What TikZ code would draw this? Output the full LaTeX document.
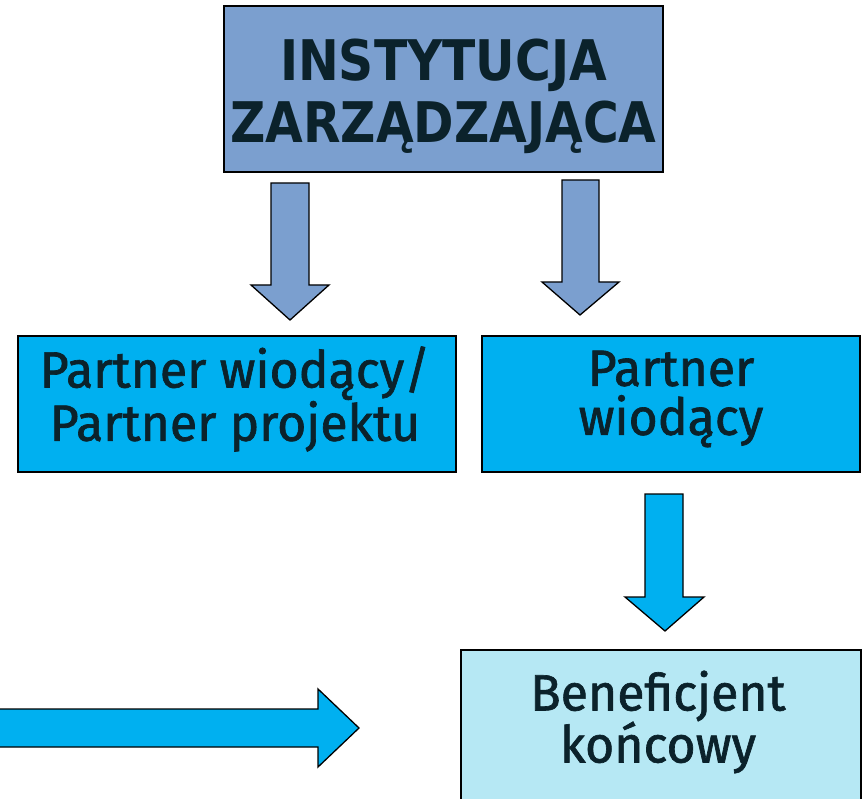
\documentclass[tikz,border=0pt]{standalone}
\usepackage{fontspec}
\newfontfamily\topfont[FakeStretch=0.87]{DejaVu Sans}
\newfontfamily\boxfont[FakeStretch=0.98,FakeBold=1.3]{Fira Sans}
\definecolor{steel}{HTML}{7B9FCF}
\definecolor{cyanbox}{HTML}{00B0F0}
\definecolor{paleb}{HTML}{B6E8F4}
\definecolor{txt}{HTML}{0B222B}
\tikzset{
  boxbase/.style={draw=black, line width=1.3pt, text=txt, align=center, inner sep=0pt},
  topbox/.style={boxbase, fill=steel},
  partbox/.style={boxbase, fill=cyanbox},
  benbox/.style={boxbase, fill=paleb},
  toptext/.style={text=txt, align=center, inner sep=0pt, font=\topfont\bfseries\fontsize{56}{62}\selectfont},
  boxtext/.style={text=txt, align=center, inner sep=0pt, font=\boxfont\fontsize{51}{49}\selectfont},
  bentext/.style={text=txt, align=center, inner sep=0pt, font=\boxfont\fontsize{51}{52}\selectfont},
  steelarrow/.style={draw=black, line width=1.3pt, fill=steel, line join=miter},
  cyanarrow/.style={draw=black, line width=1.3pt, fill=cyanbox, line join=miter}
}
\begin{document}
\begin{tikzpicture}[x=1pt,y=-1pt]
\useasboundingbox (0,0) rectangle (862,799);
\clip (0,0) rectangle (862,799);
\fill[white] (0,0) rectangle (862,799);
% boxes
\node[topbox, minimum width=439pt, minimum height=166pt] (iz) at (443.5,89) {};
\node[toptext] (izt) at (443.5,96) {INSTYTUCJA\\ZARZĄDZAJĄCA};
\node[partbox, minimum width=438pt, minimum height=136pt] (pw1) at (237,404) {};
\node[boxtext] (pw1t) at (235,399) {Partner wiodący/\\Partner projektu};
\node[partbox, minimum width=378pt, minimum height=136pt] (pw2) at (671,404) {};
\node[boxtext] (pw2t) at (671,399) {Partner\\wiodący};
\node[benbox, minimum width=400pt, minimum height=170pt] (bk) at (661,735) {};
\node[bentext] (bkt) at (658,722) {Beneficjent\\końcowy};
% arrows
\draw[steelarrow] (271,183) -- (309,183) -- (309,285) -- (329,285) -- (290,320) -- (251,285) -- (271,285) -- cycle;
\draw[steelarrow] (562,180) -- (599,180) -- (599,282) -- (619,282) -- (580,315) -- (542,282) -- (562,282) -- cycle;
\draw[cyanarrow] (645,494) -- (683,494) -- (683,597) -- (704,597) -- (665,631) -- (625,597) -- (645,597) -- cycle;
\draw[cyanarrow] (-5,709) -- (318,709) -- (318,689) -- (359,728) -- (318,767) -- (318,747) -- (-5,747) -- cycle;
\end{tikzpicture}
\end{document}
